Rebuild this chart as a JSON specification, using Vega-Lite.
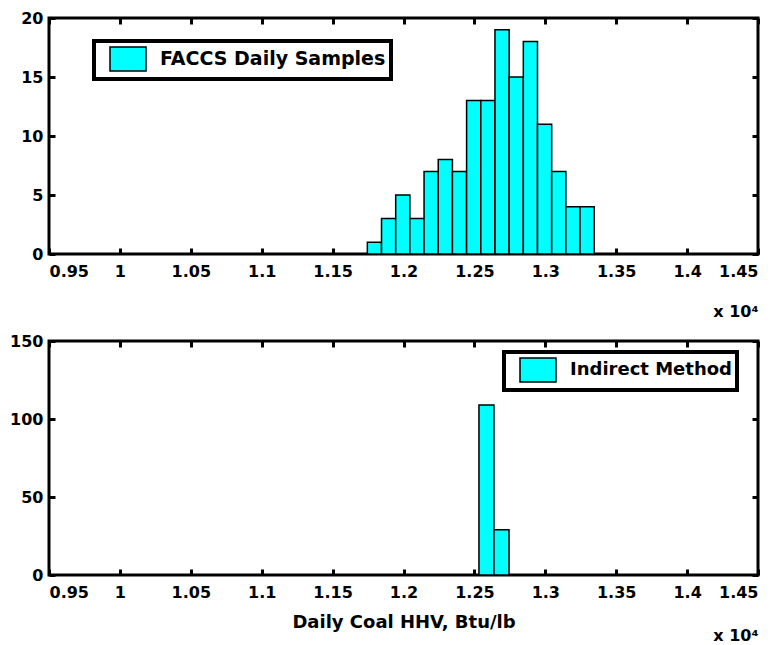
{
  "$schema": "https://vega.github.io/schema/vega-lite/v6.json",
  "padding": {"left": 8, "top": 8, "right": 3, "bottom": 0},
  "background": "white",
  "bounds": "flush",
  "spacing": 87,
  "config": {
    "view": {"stroke": "black", "strokeWidth": 3},
    "font": "DejaVu Sans",
    "axis": {
      "domain": false, "grid": false,
      "labelFont": "DejaVu Sans", "labelFontWeight": "bold", "labelFontSize": 16, "labelColor": "black",
      "tickColor": "black", "tickWidth": 3, "tickSize": -6,
      "titleFont": "DejaVu Sans", "titleFontWeight": "bold", "titleColor": "black", "titleFontSize": 16
    },
    "axisX": {"labelPadding": 15},
    "axisY": {"labelPadding": 12},
    "legend": {
      "title": null, "orient": "none", "strokeColor": "black", "fillColor": "white", "padding": 5,
      "symbolType": "M-1.5,-1H1.5V1H-1.5Z", "symbolSize": 576, "symbolStrokeColor": "black", "symbolStrokeWidth": 1.5,
      "symbolOpacity": 1, "labelFont": "DejaVu Sans", "labelFontWeight": "bold", "labelFontSize": 18, "labelColor": "black",
      "labelOffset": 19, "symbolOffset": 16, "labelLimit": 500
    }
  },
  "resolve": {"scale": {"color": "independent"}, "legend": {"color": "independent"}},
  "vconcat": [
    {
      "width": 709, "height": 236,
      "data": {"values": [
        {"series": "FACCS Daily Samples", "lo": 11745, "hi": 11845, "count": 1},
        {"series": "FACCS Daily Samples", "lo": 11845, "hi": 11945, "count": 3},
        {"series": "FACCS Daily Samples", "lo": 11945, "hi": 12045, "count": 5},
        {"series": "FACCS Daily Samples", "lo": 12045, "hi": 12145, "count": 3},
        {"series": "FACCS Daily Samples", "lo": 12145, "hi": 12245, "count": 7},
        {"series": "FACCS Daily Samples", "lo": 12245, "hi": 12345, "count": 8},
        {"series": "FACCS Daily Samples", "lo": 12345, "hi": 12445, "count": 7},
        {"series": "FACCS Daily Samples", "lo": 12445, "hi": 12545, "count": 13},
        {"series": "FACCS Daily Samples", "lo": 12545, "hi": 12645, "count": 13},
        {"series": "FACCS Daily Samples", "lo": 12645, "hi": 12745, "count": 19},
        {"series": "FACCS Daily Samples", "lo": 12745, "hi": 12845, "count": 15},
        {"series": "FACCS Daily Samples", "lo": 12845, "hi": 12945, "count": 18},
        {"series": "FACCS Daily Samples", "lo": 12945, "hi": 13045, "count": 11},
        {"series": "FACCS Daily Samples", "lo": 13045, "hi": 13145, "count": 7},
        {"series": "FACCS Daily Samples", "lo": 13145, "hi": 13245, "count": 4},
        {"series": "FACCS Daily Samples", "lo": 13245, "hi": 13345, "count": 4}
      ]},
      "layer": [
        {
          "mark": {"type": "bar", "stroke": "black", "strokeWidth": 1.5},
          "encoding": {
            "x": {"field": "lo", "type": "quantitative",
              "scale": {"domain": [9500, 14500], "nice": false, "zero": false},
              "axis": {"orient": "bottom", "values": [9500, 10000, 10500, 11000, 11500, 12000, 12500, 13000, 13500, 14000, 14500],
                "labelExpr": "format(datum.value / 10000, '~g')", "title": "x 10⁴", "titleAnchor": "end", "titlePadding": 24}},
            "x2": {"field": "hi"},
            "y": {"field": "count", "type": "quantitative", "scale": {"domain": [0, 20], "nice": false},
              "axis": {"orient": "left", "values": [0, 5, 10, 15, 20], "title": null}},
            "y2": {"datum": 0},
            "color": {"field": "series", "type": "nominal", "scale": {"range": ["#00FFFF"]},
              "legend": {"legendX": 45, "legendY": 23, "labelFontSize": 19, "encode": {"legend": {"update": {"strokeWidth": {"value": 4}}}}}}
          }
        },
        {
          "mark": {"type": "bar", "opacity": 0},
          "encoding": {
            "x": {"field": "lo", "type": "quantitative",
              "scale": {"domain": [9500, 14500], "nice": false, "zero": false},
              "axis": {"orient": "top", "values": [9500, 10000, 10500, 11000, 11500, 12000, 12500, 13000, 13500, 14000, 14500], "labels": false, "title": null}},
            "x2": {"field": "hi"},
            "y": {"field": "count", "type": "quantitative", "scale": {"domain": [0, 20], "nice": false},
              "axis": {"orient": "right", "values": [0, 5, 10, 15, 20], "labels": false, "title": null}},
            "y2": {"datum": 0}
          }
        }
      ],
      "resolve": {"axis": {"x": "independent", "y": "independent"}}
    },
    {
      "width": 709, "height": 234,
      "data": {"values": [
        {"series": "Indirect Method", "lo": 12532, "hi": 12638, "count": 109},
        {"series": "Indirect Method", "lo": 12638, "hi": 12744, "count": 29}
      ]},
      "layer": [
        {
          "mark": {"type": "bar", "stroke": "black", "strokeWidth": 1.5},
          "encoding": {
            "x": {"field": "lo", "type": "quantitative",
              "scale": {"domain": [9500, 14500], "nice": false, "zero": false},
              "axis": {"orient": "bottom", "values": [9500, 10000, 10500, 11000, 11500, 12000, 12500, 13000, 13500, 14000, 14500],
                "labelExpr": "format(datum.value / 10000, '~g')", "title": "Daily Coal HHV, Btu/lb", "titleFontSize": 18, "titlePadding": 13}},
            "x2": {"field": "hi"},
            "y": {"field": "count", "type": "quantitative", "scale": {"domain": [0, 150], "nice": false},
              "axis": {"orient": "left", "values": [0, 50, 100, 150], "title": null}},
            "y2": {"datum": 0},
            "color": {"field": "series", "type": "nominal", "scale": {"range": ["#00FFFF"]},
              "legend": {"legendX": 455, "legendY": 11, "encode": {"legend": {"update": {"strokeWidth": {"value": 4}}}}}}
          }
        },
        {
          "mark": {"type": "bar", "opacity": 0},
          "encoding": {
            "x": {"field": "lo", "type": "quantitative",
              "scale": {"domain": [9500, 14500], "nice": false, "zero": false},
              "axis": {"orient": "top", "values": [9500, 10000, 10500, 11000, 11500, 12000, 12500, 13000, 13500, 14000, 14500], "labels": false, "title": null}},
            "x2": {"field": "hi"},
            "y": {"field": "count", "type": "quantitative", "scale": {"domain": [0, 150], "nice": false},
              "axis": {"orient": "right", "values": [0, 50, 100, 150], "labels": false, "title": null}},
            "y2": {"datum": 0}
          }
        },
        {
          "mark": {"type": "bar", "opacity": 0},
          "encoding": {
            "x": {"field": "lo", "type": "quantitative",
              "scale": {"domain": [9500, 14500], "nice": false, "zero": false},
              "axis": {"orient": "bottom", "labels": false, "ticks": false, "title": "x 10⁴", "titleAnchor": "end", "titlePadding": 52}},
            "x2": {"field": "hi"},
            "y": {"field": "count", "type": "quantitative", "scale": {"domain": [0, 150], "nice": false}, "axis": null},
            "y2": {"datum": 0}
          }
        }
      ],
      "resolve": {"axis": {"x": "independent", "y": "independent"}}
    }
  ]
}
